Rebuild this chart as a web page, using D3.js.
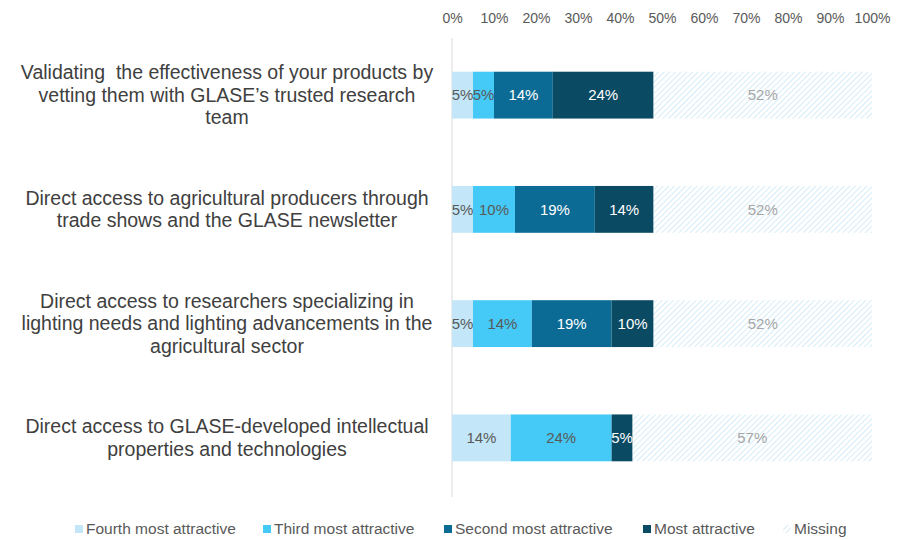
<!DOCTYPE html>
<html>
<head>
<meta charset="utf-8">
<script src="https://cdn.jsdelivr.net/npm/d3@7"></script>
<style>
  body { margin: 0; background: #fff; }
  text { font-family: "Liberation Sans", Arial, sans-serif; }
</style>
</head>
<body>
<div id="chart"></div>
<script>
// data
var categories = [
  "Validating  the effectiveness of your products by\nvetting them with GLASE\u2019s trusted research\nteam",
  "Direct access to agricultural producers through\ntrade shows and the GLASE newsletter",
  "Direct access to researchers specializing in\nlighting needs and lighting advancements in the\nagricultural sector",
  "Direct access to GLASE-developed intellectual\nproperties and technologies"
];
var seriesNames = ["Fourth most attractive", "Third most attractive", "Second most attractive", "Most attractive", "Missing"];
var fourth = [5, 5, 5, 14];
var third = [5, 10, 14, 24];
var second = [14, 19, 19, 0];
var most = [24, 14, 10, 5];
var missing = [52, 52, 52, 57];
var tickValues = [0, 10, 20, 30, 40, 50, 60, 70, 80, 90, 100];

var colors = ["#c3e7f8", "#45c9f6", "#0c6b94", "#0b4a63", "url(#hatch)"];
var labelColors = ["#595959", "#595959", "#ffffff", "#ffffff", "#a6a6a6"];
var legendX = [75, 263, 444, 643, 783];

var width = 898, height = 540;
var svg = d3.select("#chart").append("svg")
  .attr("width", width).attr("height", height);

// hatch pattern for "Missing"
var defs = svg.append("defs");
var pat = defs.append("pattern")
  .attr("id", "hatch")
  .attr("patternUnits", "userSpaceOnUse")
  .attr("width", 4).attr("height", 4)
  .attr("patternTransform", "rotate(45)");
pat.append("rect").attr("width", 4).attr("height", 4).attr("fill", "#ffffff");
pat.append("line").attr("x1", 0).attr("y1", 0).attr("x2", 0).attr("y2", 4)
  .attr("stroke", "#bfe2f3").attr("stroke-width", 1.3);

var x = d3.scaleLinear().domain([0, 100]).range([452, 872]);
var y = d3.scaleBand().domain(categories).range([38, 495]).paddingInner(0.59).paddingOuter(0.295);

var table = categories.map(function (c, i) {
  return { cat: c, vals: [fourth[i], third[i], second[i], most[i], missing[i]] };
});

// top axis
var xAxis = d3.axisTop(x).tickValues(tickValues).tickFormat(function (d) { return d + "%"; }).tickSize(0);
var gx = svg.append("g").attr("transform", "translate(0,26)").call(xAxis);
gx.select(".domain").remove();
gx.selectAll("text").attr("fill", "#595959").style("font-size", "14px")
  .style("font-family", "'Liberation Sans', Arial, sans-serif");

// vertical category axis line
svg.append("line")
  .attr("x1", x(0)).attr("x2", x(0))
  .attr("y1", 38).attr("y2", 497)
  .attr("stroke", "#d9d9d9").attr("stroke-width", 1);

// bars
var rows = svg.append("g").selectAll("g")
  .data(table).enter().append("g");

rows.each(function (d) {
  var g = d3.select(this);
  var cum = 0;
  d.vals.forEach(function (v, k) {
    var x0 = cum;
    cum += v;
    if (v <= 0) return;
    g.append("rect")
      .attr("x", x(x0)).attr("y", y(d.cat))
      .attr("width", x(cum) - x(x0)).attr("height", y.bandwidth())
      .attr("fill", colors[k]);
    g.append("text")
      .attr("x", x(x0 + v / 2)).attr("y", y(d.cat) + y.bandwidth() / 2)
      .attr("dy", "0.35em").attr("text-anchor", "middle")
      .attr("fill", labelColors[k]).style("font-size", "15px")
      .text(v + "%");
  });
});

// category labels
svg.append("g").selectAll("text")
  .data(categories).enter().append("text")
  .attr("text-anchor", "middle")
  .attr("fill", "#404040")
  .style("font-size", "19.5px")
  .style("white-space", "pre")
  .each(function (c) {
    var lines = c.split("\n");
    var cy = y(c) + y.bandwidth() / 2;
    var lh = 22.5;
    var t = d3.select(this);
    lines.forEach(function (l, i) {
      t.append("tspan")
        .attr("x", 227)
        .attr("y", cy + (i - (lines.length - 1) / 2) * lh)
        .attr("dy", "0.35em")
        .text(l);
    });
  });

// legend
var legend = svg.append("g");
seriesNames.forEach(function (name, k) {
  legend.append("rect")
    .attr("x", legendX[k]).attr("y", 525).attr("width", 8).attr("height", 8)
    .attr("fill", colors[k]);
  legend.append("text")
    .attr("x", legendX[k] + 11).attr("y", 529).attr("dy", "0.35em")
    .attr("fill", "#595959").style("font-size", "15.5px")
    .attr("textLength", null)
    .text(name);
});
</script>
</body>
</html>
